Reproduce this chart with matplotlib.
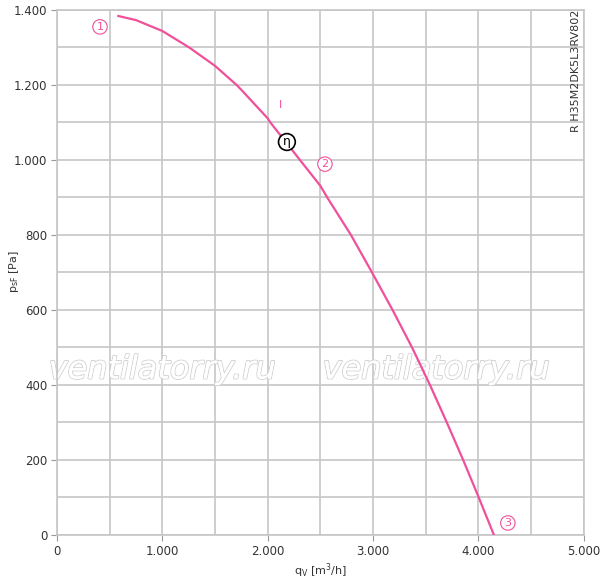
import matplotlib
matplotlib.use("Agg")
import matplotlib.pyplot as plt
import matplotlib.patheffects as pe
from matplotlib.ticker import MultipleLocator, FuncFormatter

# data
qv = [582, 750, 1000, 1255, 1500, 1705, 1750, 2000, 2025, 2250, 2306, 2500, 2565, 2790, 2990, 3185, 3370, 3540, 3700, 3855, 4003, 4147]
psf = [1384, 1373, 1344, 1300, 1251, 1200, 1187, 1111, 1100, 1020, 1000, 931, 900, 800, 700, 600, 500, 400, 300, 200, 100, 0]
point_labels = ["1", "2", "3"]
point_x = [408, 2543, 4279]
point_y = [1355, 989, 32]
eta_x, eta_y = 2182, 1048
model = "R H35M2DK5L3RV802"

pink = "#f0509a"
grid_c = "#c6c6c6"
txt_c = "#333333"

fig = plt.figure(figsize=(6.0, 5.81), dpi=100)
ax = fig.add_axes([0.095, 0.0792, 0.878, 0.9036])
ax.set_xlim(0, 5000)
ax.set_ylim(0, 1400)

ax.xaxis.set_major_locator(MultipleLocator(1000))
ax.xaxis.set_minor_locator(MultipleLocator(500))
ax.yaxis.set_major_locator(MultipleLocator(200))
ax.yaxis.set_minor_locator(MultipleLocator(100))
fmt = FuncFormatter(lambda v, p: f"{int(v):,}".replace(",", "."))
ax.xaxis.set_major_formatter(fmt)
ax.yaxis.set_major_formatter(fmt)
ax.grid(True, which="both", color=grid_c, linewidth=1.2)
ax.set_axisbelow(True)
for s in ax.spines.values():
    s.set_color(grid_c)
    s.set_linewidth(1.2)
ax.tick_params(which="major", length=4, color="#999999", labelsize=8.5, labelcolor=txt_c, pad=3)
ax.tick_params(which="minor", length=0)

# watermarks
for wx in [1000, 3600]:
    ax.text(wx, 440, "ventilatorry.ru", fontsize=23, style="italic", color="white",
            ha="center", va="center", zorder=1,
            path_effects=[pe.withStroke(linewidth=1.4, foreground="#d2d2d2"), pe.Normal()])

ax.plot(qv, psf, color=pink, linewidth=1.6, zorder=3)

for lab, x, y in zip(point_labels, point_x, point_y):
    ax.text(x, y, lab, color=pink, fontsize=8, ha="center", va="center", zorder=4,
            bbox=dict(boxstyle="circle,pad=0.2", fc="white", ec=pink, lw=0.8))
ax.text(eta_x, eta_y, "η", color="black", fontsize=9, ha="center", va="center", zorder=4,
        bbox=dict(boxstyle="circle,pad=0.15", fc="white", ec="black", lw=1.2))
ax.text(2125, 1147, "I", color=pink, fontsize=8, ha="center", va="center")

ax.text(0.995, 0.885, model, transform=ax.transAxes, rotation=90, fontsize=8,
        color=txt_c, ha="right", va="center")

ax.set_xlabel(r"q$_\mathregular{V}$ [m$^\mathregular{3}$/h]", fontsize=8, color=txt_c, labelpad=3)
fig.text(14 / 600, 1 - 272 / 581, r"p$_\mathregular{sF}$ [Pa]", fontsize=8, color=txt_c,
         rotation=90, ha="center", va="center")

fig.savefig("out.png", dpi=100)
